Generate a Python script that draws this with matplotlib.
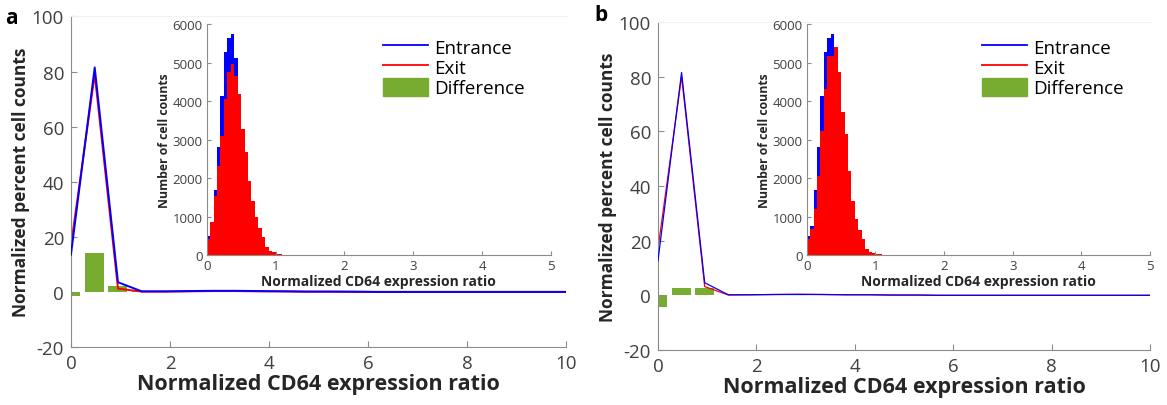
import numpy as np
import matplotlib.pyplot as plt

plt.rcParams['font.family'] = ['Open Sans', 'DejaVu Sans']
plt.rcParams['axes.unicode_minus'] = False

# main panels: binned percentages (x = bin positions)
x_main = [0, 0.48, 0.95, 1.43, 1.9, 2.38, 2.86, 3.33, 3.81, 4.29, 4.76,
          5.24, 5.71, 6.19, 6.67, 7.14, 7.62, 8.1, 8.57, 9.05, 9.52, 10]

entr_a = [13.5, 81.5, 3.5, 0.2, 0.2, 0.3, 0.4, 0.4, 0.3, 0.2, 0.1,
          0.1, 0.1, 0, 0, 0, 0, 0, 0, 0, 0, 0]
exit_a = [16.8, 79, 1.2, 0.1, 0.1, 0.2, 0.3, 0.3, 0.2, 0.2, 0.1,
          0.1, 0, 0, 0, 0, 0, 0, 0, 0, 0, 0]
diff_a = [-1.5, 14, 2.2, 0.3, 0.2, 0.2, 0.2, 0.1, 0.1, 0.1, 0,
          0, 0, 0, 0, 0, 0, 0, 0, 0, 0, 0]

entr_b = [12.6, 81.5, 4.6, 0.2, 0.2, 0.3, 0.3, 0.3, 0.2, 0.2, 0.1,
          0.1, 0, 0, 0, 0, 0, 0, 0, 0, 0, 0]
exit_b = [17, 80, 3.2, 0.1, 0.2, 0.3, 0.4, 0.3, 0.2, 0.2, 0.1,
          0.1, 0, 0, 0, 0, 0, 0, 0, 0, 0, 0]
diff_b = [-4.1, 2.8, 2.8, 0.2, 0.1, 0.1, 0.1, 0.1, 0.1, 0, 0,
          0, 0, 0, 0, 0, 0, 0, 0, 0, 0, 0]

# insets: raw counts per 0.05 bin (first 24 bins, rest ~0)
hist_entr_a = [486, 763, 1700, 2810, 4128, 5273, 5637, 5750, 5117, 4190, 3278, 2671,
               1934, 1414, 980, 694, 460, 200, 113, 70, 35, 20, 10, 5]
hist_exit_a = [416, 867, 1544, 2324, 3105, 4060, 4753, 4970, 4666, 4190, 3278, 2671,
               1934, 1414, 980, 694, 460, 200, 113, 70, 35, 20, 10, 5]
hist_entr_b = [486, 763, 1700, 2810, 4128, 5273, 5637, 5750, 5300, 4753, 3712, 3149,
               2194, 1414, 937, 659, 416, 156, 87, 52, 26, 15, 8, 4]
hist_exit_b = [416, 676, 1197, 2064, 3235, 4319, 5186, 5186, 5403, 4753, 3712, 3149,
               2194, 1414, 937, 659, 416, 156, 87, 52, 26, 15, 8, 4]

bin_w = 0.05
edges = np.arange(0, 5 + bin_w / 2, bin_w)

BLUE = '#0000ff'
RED = '#ff0000'
GREEN = '#77ac30'
AX_COL = '#8c8c8c'
TXT = '#404040'


def pad(v):
    out = np.zeros(len(edges) - 1)
    out[:len(v)] = v
    return out


def main_panel(ax, entr, exit_, diff, lw):
    step = x_main[1] - x_main[0]
    ax.bar(x_main, diff, width=0.8 * step, color=GREEN, zorder=1)
    ax.plot(x_main, exit_, color=RED, lw=lw, zorder=2)
    ax.plot(x_main, entr, color=BLUE, lw=lw, zorder=3)
    ax.set_xlim(0, 10)
    ax.set_ylim(-20, 100)
    ax.set_xticks([0, 2, 4, 6, 8, 10])
    ax.set_yticks([-20, 0, 20, 40, 60, 80, 100])
    ax.tick_params(direction='in', length=4, color=AX_COL, labelsize=13.5,
                   labelcolor=TXT, pad=5)
    ax.spines['right'].set_visible(False)
    ax.spines['top'].set_color('#f2f2f2')
    ax.spines['left'].set_color(AX_COL)
    ax.spines['bottom'].set_color(AX_COL)
    ax.set_xlabel('Normalized CD64 expression ratio', fontsize=15.5,
                  fontweight='bold', color='#262626', labelpad=1)
    ax.set_ylabel('Normalized percent cell counts', fontsize=12.5,
                  fontweight='bold', color='#262626', labelpad=1)


def inset_panel(ax, he, hx):
    ax.stairs(pad(he), edges, fill=True, color=BLUE, lw=1, label='Entrance')
    ax.stairs(pad(hx), edges, fill=True, color=RED, lw=1, label='Exit')
    ax.set_xlim(0, 5)
    ax.set_ylim(0, 6000)
    ax.set_xticks([0, 1, 2, 3, 4, 5])
    ax.set_yticks([0, 1000, 2000, 3000, 4000, 5000, 6000])
    ax.tick_params(direction='in', length=3, color=AX_COL, labelsize=9.5,
                   labelcolor=TXT, pad=3)
    ax.spines['top'].set_visible(False)
    ax.spines['right'].set_visible(False)
    ax.spines['left'].set_color(AX_COL)
    ax.spines['bottom'].set_color(AX_COL)
    ax.patch.set_alpha(0)
    ax.set_xlabel('Normalized CD64 expression ratio', fontsize=10,
                  fontweight='bold', color='#262626', labelpad=1)
    ax.set_ylabel('Number of cell counts', fontsize=8.8,
                  fontweight='bold', color='#262626', labelpad=1)
    handles = [plt.Line2D([], [], color=BLUE, lw=1.3),
               plt.Line2D([], [], color=RED, lw=1.3),
               plt.Rectangle((0, 0), 1, 1, color=GREEN)]
    ax.legend(handles, ['Entrance', 'Exit', 'Difference'], loc='upper right',
              bbox_to_anchor=(0.95, 0.985), frameon=False, fontsize=13.5,
              handlelength=2.4, handleheight=1.1, labelspacing=0.05,
              handletextpad=0.3, borderpad=0)


fig = plt.figure(figsize=(11.67, 4.06), dpi=100)

ax_a = fig.add_axes([0.0608, 0.1429, 0.4242, 0.814])
main_panel(ax_a, entr_a, exit_a, diff_a, 1.4)
ins_a = fig.add_axes([0.1771, 0.3695, 0.295, 0.568])
inset_panel(ins_a, hist_entr_a, hist_exit_a)

ax_b = fig.add_axes([0.5638, 0.1355, 0.4216, 0.808])
main_panel(ax_b, entr_b, exit_b, diff_b, 0.9)
ins_b = fig.add_axes([0.6913, 0.3695, 0.2942, 0.568])
inset_panel(ins_b, hist_entr_b, hist_exit_b)

fig.text(0.004, 0.955, 'a', fontsize=15, fontweight='bold', va='center')
fig.text(0.509, 0.962, 'b', fontsize=15, fontweight='bold', va='center')

fig.savefig('out.png', dpi=100)
